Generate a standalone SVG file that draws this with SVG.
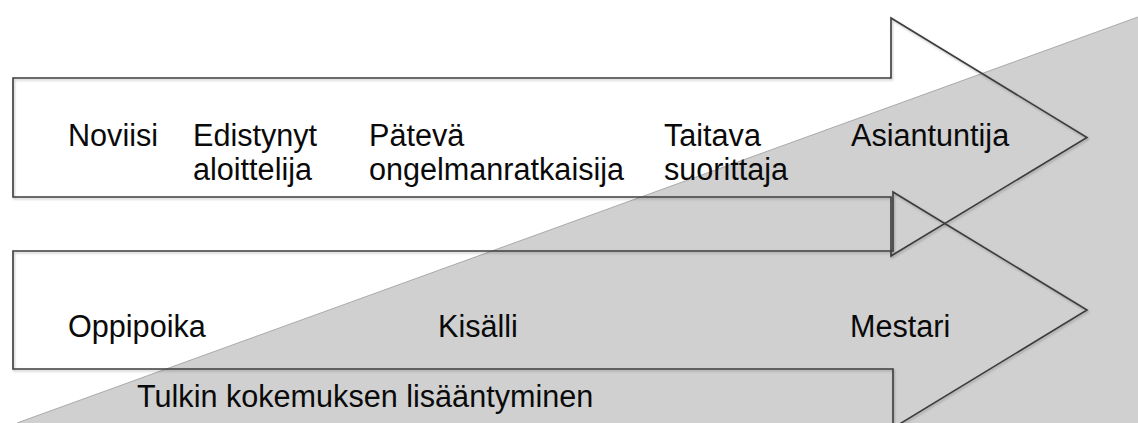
<svg xmlns="http://www.w3.org/2000/svg" width="1138" height="423" viewBox="0 0 1138 423">
  <style>
    .arrow { fill: none; stroke: #3c3c3c; stroke-width: 1.6; stroke-linejoin: miter; filter: url(#shadow); }
    .lbl { font-family: "Liberation Sans", Arial, sans-serif; font-size: 30.6px; fill: #0a0a0a; }
    .band { fill: #d0d0d0; }
    .edge { fill: none; stroke: #a9a9a9; stroke-width: 1; }
  </style>
  <defs>
    <filter id="shadow" x="-5%" y="-5%" width="110%" height="120%">
      <feDropShadow dx="1" dy="1.5" stdDeviation="1" flood-color="#000" flood-opacity="0.25"/>
    </filter>
  </defs>
  <rect x="0" y="0" width="1138" height="423" fill="#ffffff"/>

  <g id="experience">
    <polygon class="band" points="17,423 1138,17 1138,423"/>
    <line class="edge" x1="17" y1="423" x2="1138" y2="17"/>
    <text class="lbl" x="137" y="407">Tulkin kokemuksen lisääntyminen</text>
  </g>

  <g id="connectors">
    <path id="arrow-top" class="arrow" d="M13,78 H891 V18 L1087,137.5 L891,256 V197 H13 Z"/>
    <path id="arrow-bottom" class="arrow" d="M13,251 H893 V192 L1087,310 L893,428 V369 H13 Z"/>
  </g>

  <g id="noviisi"><text class="lbl" x="68" y="146">Noviisi</text></g>
  <g id="edistynyt">
    <text class="lbl" x="193" y="146">Edistynyt</text>
    <text class="lbl" x="193" y="180">aloittelija</text>
  </g>
  <g id="pateva">
    <text class="lbl" x="369" y="146">Pätevä</text>
    <text class="lbl" x="369" y="180">ongelmanratkaisija</text>
  </g>
  <g id="taitava">
    <text class="lbl" x="664" y="146">Taitava</text>
    <text class="lbl" x="664" y="180">suorittaja</text>
  </g>
  <g id="asiantuntija"><text class="lbl" x="851" y="146">Asiantuntija</text></g>

  <g id="oppipoika"><text class="lbl" x="68" y="337">Oppipoika</text></g>
  <g id="kisalli"><text class="lbl" x="438" y="337">Kisälli</text></g>
  <g id="mestari"><text class="lbl" x="850" y="337">Mestari</text></g>
</svg>
